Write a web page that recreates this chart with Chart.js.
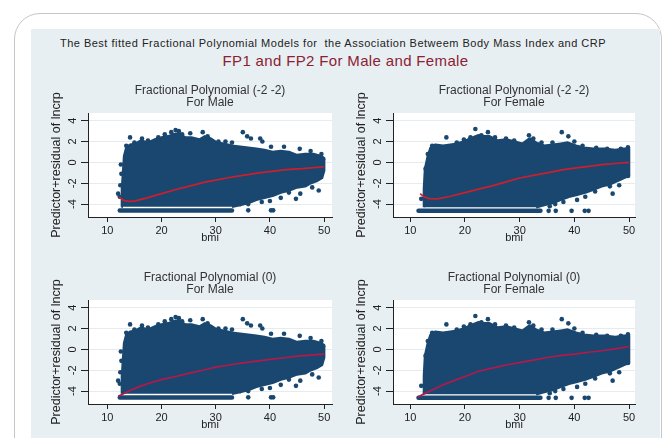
<!DOCTYPE html>
<html>
<head>
<meta charset="utf-8">
<script src="https://cdn.jsdelivr.net/npm/chart.js@4.4.0/dist/chart.umd.min.js"></script>
<style>
  body { margin: 0; background: #fff; width: 663px; height: 438px; overflow: hidden; position: relative; font-family: 'Liberation Sans', Arial, sans-serif; }
  #card { position: absolute; left: 14px; top: 13px; width: 646px; height: 480px; border: 1.5px solid #c6c6c6; border-radius: 26px; }
  #panel { position: absolute; left: 31px; top: 29px; width: 629px; height: 420px; background: #e8eff2; }
  .title { position: absolute; text-align: center; white-space: nowrap; }
  #mainTitle { left: 31px; width: 604px; top: 37px; font-size: 11px; line-height: 12px; letter-spacing: 0.5px; color: #222; }
  #subTitle { left: 31px; width: 629px; top: 53px; font-size: 15px; line-height: 16px; letter-spacing: 0.35px; color: #8b2232; }
  .box { position: absolute; }
</style>
</head>
<body>
<div id="card"></div>
<div id="panel"></div>
<div id="mainTitle" class="title">The Best fitted Fractional Polynomial Models for&nbsp; the Association Betweem Body Mass Index and CRP</div>
<div id="subTitle" class="title">FP1 and FP2 For Male and Female</div>
<div class="box" style="left:40px;top:80px;width:296px;height:165px"><canvas id="c1"></canvas></div>
<div class="box" style="left:345px;top:80px;width:294px;height:165px"><canvas id="c2"></canvas></div>
<div class="box" style="left:40px;top:267px;width:296px;height:165px"><canvas id="c3"></canvas></div>
<div class="box" style="left:345px;top:267px;width:294px;height:165px"><canvas id="c4"></canvas></div>
<script>
// axis ticks
const bmiTicks = [10, 20, 30, 40, 50];
const yTicks = [-4, -2, 0, 2, 4];

// outline of the dense point cloud (bmi, predictor+residual)
const maleCloud = [
  [12.6,-4.25],[12.7,-2.6],[12.9,-1.0],[13.1,0.6],[13.5,1.4],[14.2,1.7],[15.2,1.8],[16.2,2.1],
  [17.5,1.9],[18.8,2.2],[20,2.4],[21.2,2.5],[22.3,2.7],[23.2,2.8],[24.3,2.4],[25.5,2.4],[27,2.2],
  [28,2.5],[29,2.3],[30.2,1.9],[31.5,1.8],[33,1.6],[34.5,1.5],[36,1.4],[37.5,1.3],[39,1.2],
  [40.5,1.0],[42,1.1],[43.5,1.0],[45,0.7],[46.5,0.8],[48,0.8],[49.5,0.6],[50,0.4],
  [50,-0.8],[49.6,-1.5],[48.6,-1.8],[47.5,-2.0],[46.5,-2.3],[45,-2.4],[43.5,-2.7],[42,-2.9],
  [40.5,-3.2],[39,-3.4],[37.5,-3.6],[36,-3.9],[34.5,-4.1],[33,-4.25]
];
const femaleCloud = [
  [12.5,-4.3],[12.5,-2.5],[12.7,-0.6],[13.2,0.6],[13.7,1.4],[14.6,1.7],[16,1.6],[17.3,1.7],
  [18.5,1.8],[19.8,2.0],[21,2.3],[22.4,2.6],[23.5,2.5],[24.5,2.5],[26,2.1],[27.5,2.2],[29,2.0],
  [30.5,1.8],[31.8,2.3],[33,1.9],[34.5,1.6],[36,1.7],[37.5,1.8],[38.8,1.9],[40.3,1.6],[41.8,1.4],
  [43.5,1.3],[45.5,1.3],[47.5,1.2],[49,1.3],[50,1.3],
  [50,-1.3],[49,-1.5],[47.8,-1.8],[46.5,-2.1],[45,-2.3],[43.5,-2.6],[42,-2.9],[40.5,-3.1],
  [39,-3.3],[37.5,-3.6],[36,-3.9],[34.5,-4.1],[33,-4.3]
];

// stray points outside the cloud outline
const maleDots = [
  [12.0,-3.0],[12.3,-3.3],[12.5,-0.2],[12.6,-1.1],[12.4,-2.2],[13.5,1.6],[14.2,2.4],[15.0,1.9],
  [16.4,2.3],[17.5,2.1],[19.4,2.4],[20.6,2.7],[21.8,2.9],[22.6,3.1],[23.2,3.0],[23.8,2.7],
  [25.3,2.8],[27.6,2.9],[28.5,2.5],[30.5,2.0],[31.8,2.0],[33.0,1.9],[35.0,2.9],[35.8,2.5],
  [36.5,2.3],[38.2,2.3],[38.6,2.0],[40.2,1.5],[42.6,1.5],[45.5,1.3],[47.5,1.1],[49.5,0.8],
  [49.8,0.3],[49.0,-2.7],[47.8,-2.4],[45.6,-3.0],[44.8,-3.5],[43.5,-2.9],[42.0,-3.4],
  [40.0,-3.7],[38.5,-3.8],[36.0,-4.0],[34.5,-4.0],[40.2,-4.6],[40.6,-4.6],[36.0,-4.6]
];
const femaleDots = [
  [12.0,-3.5],[12.8,-0.6],[13.2,0.8],[14.0,1.6],[16.6,2.4],[18.5,1.9],[19.8,2.2],[21.0,2.4],
  [21.9,3.2],[23.0,2.6],[24.2,2.9],[25.5,2.4],[27.5,2.3],[29.0,2.1],[31.7,2.6],[32.5,2.3],
  [34.0,1.9],[36.0,1.9],[37.7,2.9],[38.9,2.5],[40.0,2.0],[41.5,1.6],[44.0,1.4],[46.0,1.3],
  [48.5,1.3],[49.8,1.45],[49.8,-1.3],[48.2,-2.2],[47.0,-3.0],[46.5,-2.3],[43.8,-2.8],
  [42.0,-3.3],[40.5,-3.6],[38.0,-3.8],[36.5,-4.0],[35.5,-4.2],[35.3,-4.65],[36.6,-4.65],
  [39.5,-4.65],[41.9,-4.65],[42.6,-4.65]
];

// the row of censored values along the bottom
const maleFloor = [[12.3,-4.62],[33.0,-4.62]];
const femaleFloor = [[11.5,-4.65],[33.8,-4.65]];

// fitted curves
const maleFP22 = [
  [12.2,-3.3],[13,-3.65],[14,-3.75],[15,-3.72],[17,-3.45],[20,-3.0],[23,-2.55],[25,-2.3],
  [28,-1.9],[30,-1.7],[32,-1.5],[35,-1.25],[38,-1.0],[40,-0.88],[43,-0.7],[46,-0.6],[50,-0.42]
];
const femaleFP22 = [
  [11.8,-3.0],[12.5,-3.3],[13.5,-3.48],[15,-3.5],[17,-3.3],[20,-2.9],[23,-2.5],[25,-2.25],
  [28,-1.8],[30,-1.5],[33,-1.2],[35,-1.0],[38,-0.7],[40,-0.55],[43,-0.35],[45,-0.22],[48,-0.08],[50,0.0]
];
const maleFP0 = [
  [12,-4.5],[13,-4.25],[14,-4.0],[16,-3.55],[18,-3.2],[20,-2.9],[23,-2.55],[25,-2.3],[28,-1.95],
  [30,-1.7],[33,-1.45],[35,-1.3],[38,-1.1],[40,-0.95],[43,-0.78],[45,-0.64],[48,-0.52],[50,-0.45]
];
const femaleFP0 = [
  [11.4,-4.57],[12,-4.4],[13,-4.15],[14,-3.9],[16,-3.4],[18,-3.0],[20,-2.6],[22.5,-2.1],[25,-1.8],
  [28,-1.45],[30,-1.27],[33,-0.98],[35,-0.78],[38,-0.55],[40,-0.45],[43,-0.25],[45,-0.13],[48,0.1],[50,0.28]
];

const navy = '#1a476f';
const fontFamily = "'Liberation Sans', Arial, sans-serif";

function toXY(pairs) {
    return pairs.map(p => ({ x: p[0], y: p[1] }));
}

// white plot region
const plotBg = {
    id: 'plotBg',
    beforeDraw(chart) {
        const { ctx, chartArea: a } = chart;
        ctx.save();
        ctx.fillStyle = '#ffffff';
        ctx.fillRect(a.left, a.top, a.width, a.height);
        ctx.restore();
    }
};

function fpChart(id, title, cloud, dots, floor, fit, fitColor, xMin, xMax) {
    return new Chart(document.getElementById(id), {
        type: 'scatter',
        data: {
            datasets: [
                { data: toXY(fit), showLine: true, borderColor: fitColor, borderWidth: 1.7, pointRadius: 0, fill: false },
                { data: toXY(dots), pointRadius: 2.3, backgroundColor: navy, borderWidth: 0 },
                { data: toXY(floor), showLine: true, borderColor: navy, borderWidth: 4.5, borderCapStyle: 'round', pointRadius: 0 },
                { data: toXY(cloud), showLine: true, fill: 'shape', backgroundColor: navy, borderColor: navy,
                  borderWidth: 2.5, borderJoinStyle: 'round', pointRadius: 0 }
            ]
        },
        options: {
            responsive: true,
            maintainAspectRatio: false,
            animation: false,
            layout: { padding: { right: 2 } },
            plugins: {
                legend: { display: false },
                tooltip: { enabled: false },
                title: {
                    display: true,
                    text: title,
                    fullSize: false,
                    color: '#333',
                    font: { family: fontFamily, size: 12, weight: 'normal', lineHeight: 1 },
                    padding: { top: 5, bottom: 4 }
                }
            },
            scales: {
                x: {
                    type: 'linear',
                    min: xMin,
                    max: xMax,
                    afterBuildTicks: s => { s.ticks = bmiTicks.map(v => ({ value: v })); },
                    afterFit: s => { s.height = 28; },
                    grid: { drawOnChartArea: false, drawTicks: true, tickLength: 5, tickColor: '#222' },
                    border: { color: '#222', width: 1 },
                    ticks: { color: '#222', font: { family: fontFamily, size: 11 }, padding: 2, maxRotation: 0 },
                    title: { display: true, text: 'bmi', color: '#222', font: { family: fontFamily, size: 11 }, padding: 0 }
                },
                y: {
                    min: -5.24,
                    max: 4.74,
                    afterBuildTicks: s => { s.ticks = yTicks.map(v => ({ value: v })); },
                    afterFit: s => { s.width = 48; },
                    grid: { color: '#e4ecef', lineWidth: 1, tickLength: 7, tickColor: '#222' },
                    border: { color: '#222', width: 1 },
                    ticks: { color: '#222', font: { family: fontFamily, size: 11 }, minRotation: 90, maxRotation: 90, crossAlign: 'center' },
                    title: { display: true, text: 'Predictor+residual of lncrp', color: '#222',
                             font: { family: fontFamily, size: 12.5 }, padding: { top: 9, bottom: 0 } }
                }
            }
        },
        plugins: [plotBg]
    });
}

fpChart('c1', ['Fractional Polynomial (-2 -2)', 'For Male'], maleCloud, maleDots, maleFloor, maleFP22, '#cc1f2e', 6.44, 51.45);
fpChart('c2', ['Fractional Polynomial (-2 -2)', 'For Female'], femaleCloud, femaleDots, femaleFloor, femaleFP22, '#cc1f2e', 6.84, 51.09);
fpChart('c3', ['Fractional Polynomial (0)', 'For Male'], maleCloud, maleDots, maleFloor, maleFP0, '#b3194a', 6.44, 51.45);
fpChart('c4', ['Fractional Polynomial (0)', 'For Female'], femaleCloud, femaleDots, femaleFloor, femaleFP0, '#b3194a', 6.84, 51.09);
</script>
</body>
</html>
